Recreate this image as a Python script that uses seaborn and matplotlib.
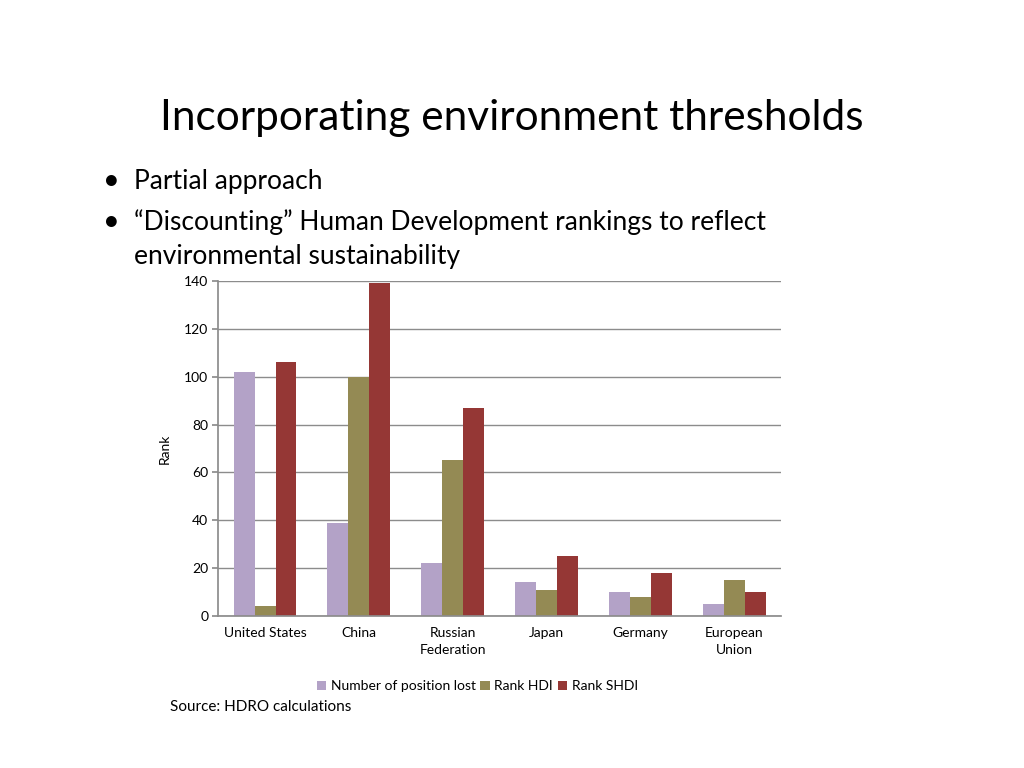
import matplotlib
matplotlib.use("Agg")
import matplotlib.pyplot as plt
import seaborn as sns
import pandas as pd

categories = ["United States", "China", "Russian\nFederation", "Japan", "Germany", "European\nUnion"]
series_names = ["Number of position lost", "Rank HDI", "Rank SHDI"]
positions_lost = [102, 39, 22, 14, 10, 5]
rank_hdi = [4, 100, 65, 11, 8, 15]
rank_shdi = [106, 139, 87, 25, 18, 10]
y_ticks = [0, 20, 40, 60, 80, 100, 120, 140]
colors = ["#B3A2C7", "#948A54", "#953735"]

rows = []
for name, vals in zip(series_names, [positions_lost, rank_hdi, rank_shdi]):
    for c, v in zip(categories, vals):
        rows.append({"Country": c, "Series": name, "Value": v})
df = pd.DataFrame(rows)

sns.set_theme(style="white")
plt.rcParams["font.family"] = ["Lato", "DejaVu Sans"]
plt.rcParams["text.color"] = "black"
plt.rcParams["axes.labelcolor"] = "black"
plt.rcParams["xtick.color"] = "black"
plt.rcParams["ytick.color"] = "black"

fig = plt.figure(figsize=(10.24, 7.68), dpi=100)
ax = fig.add_axes([0.213, 0.198, 0.550, 0.436])

sns.barplot(data=df, x="Country", y="Value", hue="Series", palette=colors,
            width=0.67, saturation=1, ax=ax, legend=True, linewidth=0)

ax.set_ylim(0, 140)
ax.set_yticks(y_ticks)
ax.set_xlim(-0.5, len(categories) - 0.5)
ax.yaxis.grid(True, color="#8C8C8C", linewidth=1)
ax.set_axisbelow(True)
for s in ["top", "right"]:
    ax.spines[s].set_visible(False)
ax.spines["left"].set_color("#8C8C8C")
ax.spines["bottom"].set_color("#8C8C8C")
ax.tick_params(axis="y", which="both", left=True, length=4, color="#8C8C8C", labelsize=10, pad=3)
ax.tick_params(axis="x", bottom=False, labelsize=10, pad=2)
for lab in ax.get_xticklabels():
    lab.set_linespacing(1.45)
ax.set_xlabel("")
ax.set_ylabel("Rank", fontsize=10, labelpad=10)

leg = ax.legend(loc="upper center", bbox_to_anchor=(0.46, -0.155), ncol=3, frameon=False,
                fontsize=10, handlelength=0.7, handleheight=0.7, handletextpad=0.3,
                columnspacing=0.35)

fig.text(0.5, 0.847, "Incorporating environment thresholds", ha="center", va="center",
         fontsize=30.5, color="black")
fig.text(0.101, 0.764, "•", fontsize=21, va="center")
fig.text(0.131, 0.764, "Partial approach", fontsize=19, va="center")
fig.text(0.101, 0.711, "•", fontsize=21, va="center")
fig.text(0.131, 0.711, "“Discounting” Human Development rankings to reflect", fontsize=19, va="center")
fig.text(0.131, 0.666, "environmental sustainability", fontsize=19, va="center")
fig.text(0.166, 0.080, "Source: HDRO calculations", fontsize=11, va="center")

fig.savefig("out.png", dpi=100)
